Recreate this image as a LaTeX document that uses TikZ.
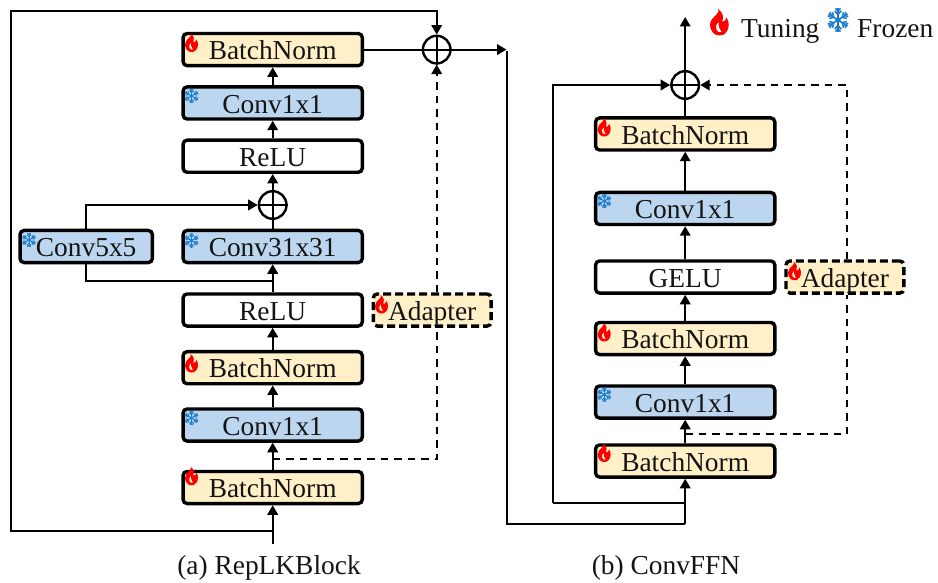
\documentclass[tikz,border=0pt]{standalone}
\usepackage{fontspec}
\setmainfont{Liberation Serif}
\usetikzlibrary{arrows.meta}
\definecolor{warm}{HTML}{FFF0C8}
\definecolor{cold}{HTML}{BBD6EE}
\definecolor{icecol}{HTML}{1B7CCB}
\tikzset{
  txt/.style={font=\fontsize{27.4}{30}\selectfont,text=black!92},
  blockbase/.style={txt,draw=black,line width=3.4pt,rounded corners=4pt,inner sep=0pt,
    text height=20.2pt,text depth=0pt,minimum height=32.1pt},
  wide/.style={blockbase,minimum width=179.2pt},
  warmbox/.style={wide,fill=warm},
  coldbox/.style={wide,fill=cold},
  plainbox/.style={wide,fill=white},
  adapterbox/.style={blockbase,fill=warm,dash pattern=on 8pt off 4pt,minimum width=117.8pt},
  smallcold/.style={blockbase,fill=cold,minimum width=132.3pt},
  sumnode/.style={circle,draw=black,line width=2.4pt,minimum size=27.6pt,inner sep=0pt},
  conn/.style={line width=2pt},
  arr/.style={conn,-{Triangle[length=9.5pt,width=10.5pt]}},
  dashconn/.style={line width=2pt,dash pattern=on 7.5pt off 6pt},
  flame/.pic={
    \fill[red,even odd rule] (0.42,0) .. controls (0.7,0.15) and (0.7,0.35) .. (0.62,0.48)
      .. controls (0.72,0.5) and (0.82,0.42) .. (0.85,0.32)
      .. controls (1,0.5) and (1,0.7) .. (0.85,0.86)
      .. controls (0.72,1) and (0.6,1) .. (0.45,1)
      .. controls (0.2,1) and (0,0.8) .. (0,0.6)
      .. controls (0,0.42) and (0.18,0.32) .. (0.32,0.22)
      .. controls (0.44,0.14) and (0.46,0.08) .. (0.42,0) -- cycle
      (0.44,0.48) .. controls (0.3,0.58) and (0.26,0.7) .. (0.34,0.8)
      .. controls (0.4,0.88) and (0.5,0.9) .. (0.6,0.86)
      .. controls (0.48,0.76) and (0.42,0.62) .. (0.44,0.48) -- cycle;
  },
  snow/.pic={
    \foreach \a in {90,150,210,270,330,30}{
      \begin{scope}[rotate=\a]
        \draw[icecol] (0,0) -- (1,0);
        \draw[icecol] (0.45,0) -- (0.75,0.3) (0.45,0) -- (0.75,-0.3);
        \draw[icecol] (0.72,0) -- (0.95,0.22) (0.72,0) -- (0.95,-0.22);
      \end{scope}}
    \fill[icecol] (0,0) circle (0.24);
  },
}
\begin{document}
\begin{tikzpicture}[x=1pt,y=-1pt]
\useasboundingbox (0,0) rectangle (938,583);
% left column
\node[warmbox] (bnA4) at (272.7,49.6) {BatchNorm};
\node[coldbox] (cvA3) at (272.7,103) {Conv1x1};
\node[plainbox] (reA2) at (272.7,156.2) {ReLU};
\node[coldbox] (cvA2) at (272.7,246.5) {Conv31x31};
\node[smallcold] (cvA5) at (86.2,246.5) {Conv5x5};
\node[plainbox] (reA1) at (272.7,310) {ReLU};
\node[warmbox] (bnA2) at (272.7,367.7) {BatchNorm};
\node[coldbox] (cvA1) at (272.7,425) {Conv1x1};
\node[warmbox] (bnA1) at (272.7,487.5) {BatchNorm};
\node[adapterbox] (adA) at (432.2,310) {Adapter};
\node[sumnode] (sumA) at (436.7,49.6) {};
\node[sumnode] (sumM) at (272.7,205) {};
\coordinate (inA) at (272.7,544);
\coordinate (splitA) at (272.7,530.7);
\coordinate (loopA1) at (11,530.7);
\coordinate (loopA2) at (11,11.5);
\coordinate (tapA) at (272.7,459.3);
\coordinate (tapAr) at (436.7,459.3);
\coordinate (adAb) at (436.7,327.7);
\coordinate (adAt) at (436.7,292.3);
\coordinate (outA) at (506.5,49.6);
\coordinate (j5) at (272.7,280.5);
\coordinate (j5l) at (86.2,280.5);
% left connectors
\draw[arr] (inA) -- (bnA1.south);
\draw[arr] (splitA) -- (loopA1) -- (loopA2) -| (sumA.north);
\draw[arr] (bnA1.north) -- (cvA1.south);
\draw[arr] (cvA1.north) -- (bnA2.south);
\draw[arr] (bnA2.north) -- (reA1.south);
\draw[arr] (reA1.north) -- (cvA2.south);
\draw[conn] (cvA5.south) -- (j5l) -- (j5);
\draw[arr] (cvA2.north) -- (reA2.south);
\draw[arr] (cvA5.north) |- (sumM.west);
\draw[conn] (sumM.west) -- (sumM.east);
\draw[arr] (reA2.north) -- (cvA3.south);
\draw[arr] (cvA3.north) -- (bnA4.south);
\draw[arr] (bnA4.east) -- (outA);
\draw[conn] (sumA.north) -- (sumA.south);
\draw[dashconn] (tapA) -- (tapAr) -- (adAb);
\draw[dashconn,-{Triangle[length=9.5pt,width=10.5pt]}] (adAt) -- (sumA.south);
% right column
\node[warmbox] (bnB3) at (685.2,134) {BatchNorm};
\node[coldbox] (cvB2) at (685.2,208.5) {Conv1x1};
\node[plainbox] (geB) at (685.2,277) {GELU};
\node[warmbox] (bnB2) at (685.2,338.5) {BatchNorm};
\node[coldbox] (cvB1) at (685.2,402) {Conv1x1};
\node[warmbox] (bnB1) at (685.2,461) {BatchNorm};
\node[adapterbox] (adB) at (844.9,277) {Adapter};
\node[sumnode] (sumB) at (685.2,85) {};
\coordinate (inB) at (507,51.5);
\coordinate (inB2) at (507,523.7);
\coordinate (inB3) at (685.2,523.7);
\coordinate (splitB) at (685.2,503);
\coordinate (loopB) at (553,503);
\coordinate (topB) at (685.2,17);
\coordinate (tapB) at (685.2,434.3);
\coordinate (tapBr) at (847,434.3);
\coordinate (adBb) at (847,294.7);
\coordinate (adBt) at (847,259.3);
% right connectors
\draw[conn] (inB) -- (inB2) -- (inB3);
\draw[arr] (inB3) -- (bnB1.south);
\draw[conn] (splitB) -- (loopB);
\draw[arr] (loopB) |- (sumB.west);
\draw[arr] (bnB1.north) -- (cvB1.south);
\draw[arr] (cvB1.north) -- (bnB2.south);
\draw[arr] (bnB2.north) -- (geB.south);
\draw[arr] (geB.north) -- (cvB2.south);
\draw[arr] (cvB2.north) -- (bnB3.south);
\draw[arr] (bnB3.north) -- (topB);
\draw[conn] (sumB.west) -- (sumB.east);
\draw[dashconn] (tapB) -- (tapBr) -- (adBb);
\draw[dashconn,-{Triangle[length=9.5pt,width=10.5pt]}] (adBt) |- (sumB.east);
% icons
\foreach \x/\y in {185/33.5,185/354,185/466.7,375/295,597.7/118,597.7/323,597.7/443.5,788/261.7}
  \pic[xscale=13.5,yscale=18.5] at (\x,\y) {flame};
\foreach \x/\y in {191.5/96,191.5/240.5,191.5/418,29/240,604.3/201,604.3/394.7}
  \pic[scale=7.2,line width=1pt] at (\x,\y) {snow};
\pic[xscale=19.5,yscale=26.5] at (710,9) {flame};
\pic[xscale=11,yscale=12.2,line width=1.6pt] at (838,20) {snow};
% legend and captions
\node[txt,anchor=base west,inner sep=0pt] (legT) at (741,37.6) {Tuning};
\node[txt,anchor=base west,inner sep=0pt] (legF) at (857,37.6) {Frozen};
\node[txt,anchor=base,inner sep=0pt] (capA) at (269,574) {(a) RepLKBlock};
\node[txt,anchor=base,inner sep=0pt] (capB) at (666,574) {(b) ConvFFN};
\end{tikzpicture}
\end{document}
